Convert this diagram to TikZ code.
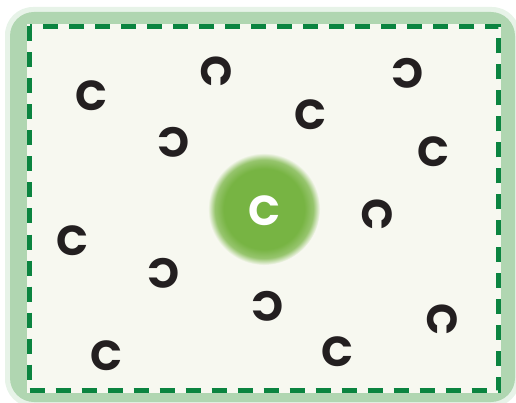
\documentclass[tikz,border=0pt]{standalone}
\usepackage{fontspec}
\newfontfamily\cfont{Poppins}
\definecolor{paper}{HTML}{F7F8F0}
\definecolor{framegreen}{HTML}{B0D6B1}
\definecolor{dashgreen}{HTML}{0B8440}
\definecolor{coregreen}{HTML}{77B443}
\definecolor{ink}{HTML}{231F20}
\pgfdeclareradialshading{coreglow}{\pgfpoint{0bp}{0bp}}{color(0bp)=(coregreen); color(18bp)=(coregreen); color(22bp)=(coregreen!75!paper); color(25bp)=(paper); color(50bp)=(paper)}

\begin{document}
\begin{tikzpicture}[x=1pt,y=-1pt, letter/.style={font=\cfont\bfseries\fontsize{42}{42}\selectfont, text=ink, inner sep=0pt}]
  \useasboundingbox (0,0) rectangle (516,403);
  \fill[framegreen!30, rounded corners=28pt] (5,7) rectangle (520,407);
  \fill[framegreen, rounded corners=24pt] (10,12) rectangle (515,402);
  \fill[paper] (27,24) rectangle (501,393);
  \draw[dashgreen, line width=5pt, dash pattern=on 15pt off 11pt] (29.5,26.5) rectangle (498.5,390.5);

  \shade[shading=coreglow] (264,209) circle (56);
  \node[letter, text=white] (core) at (264,211) {C};

  \node[letter] (c1) at (92,96) {C};
  \node[letter, rotate=-90] (c2) at (216,72) {C};
  \node[letter, rotate=180] (c3) at (173,142) {C};
  \node[letter] (c4) at (310,115) {C};
  \node[letter, rotate=180] (c5) at (407,73) {C};
  \node[letter] (c6) at (433,152) {C};
  \node[letter, rotate=-90] (c7) at (377,215) {C};
  \node[letter] (c8) at (73,241) {C};
  \node[letter, rotate=180] (c9) at (163,273) {C};
  \node[letter, rotate=180] (c10) at (267,306) {C};
  \node[letter, rotate=-90] (c11) at (442,320) {C};
  \node[letter] (c12) at (107,356) {C};
  \node[letter] (c13) at (337,352) {C};
\end{tikzpicture}
\end{document}
